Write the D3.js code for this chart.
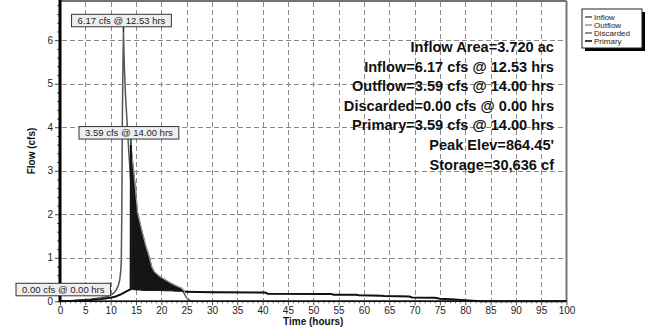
<!DOCTYPE html>
<html><head><meta charset="utf-8">
<script src="https://cdn.jsdelivr.net/npm/d3@7"></script>
<style>
html,body{margin:0;padding:0;background:#fff;}
svg{display:block;font-family:Arial,"Liberation Sans",sans-serif;}
</style></head>
<body>
<svg id="chart" width="652" height="329"></svg>
<script>
// ---- data ----
const xTicks = [0,5,10,15,20,25,30,35,40,45,50,55,60,65,70,75,80,85,90,95,100];
const yTicks = [0,1,2,3,4,5,6];
const xGridValues = [5,10,15,20,25,30,35,40,45,50,55,60,65,70,75,80,85,90,95];
const yGridValues = [1,2,3,4,5,6];

const inflowHours = [0,2,4,6,8,9,10,10.5,11,11.5,11.8,12.0,12.1,12.2,12.3,12.4,12.53,12.7,12.9,13.1,13.3,13.6,14.0,14.5,15,15.5,16,17,18,19,20,21,22,23,24,24.5,25,25.5,26,100];
const inflowFlow  = [0,0.01,0.03,0.05,0.08,0.1,0.14,0.18,0.24,0.36,0.5,0.7,0.9,2.0,4.0,5.2,6.17,5.4,4.8,4.4,4.0,3.4,2.7,2.1,1.7,1.45,1.25,0.95,0.75,0.6,0.5,0.45,0.4,0.34,0.27,0.18,0.08,0.03,0,0];

const primaryHours = [0,3,6,8,10,11,12,12.5,13,13.5,13.95,14.0];
const primaryFlow  = [0,0.01,0.03,0.05,0.08,0.11,0.16,0.19,0.22,0.25,0.28,3.59];

const envHours = [14.0,14.3,14.6,15.0,15.3,15.8,16.3,17.0,17.6,18.1,18.6,19.7,21,22,23,24,24.7];
const envUpper = [3.59,3.25,2.95,2.45,2.05,1.8,1.56,1.25,1.03,0.8,0.68,0.57,0.48,0.41,0.35,0.30,0.22];
const envLower = [0.28,0.27,0.27,0.26,0.26,0.26,0.25,0.25,0.25,0.25,0.25,0.25,0.24,0.24,0.23,0.23,0.22];

const tailHours = [24.7,30,40.5,41,53.5,54,58.5,59,63.5,64,69,69.5,74,75,78,79,83,100];
const tailFlow  = [0.22,0.21,0.2,0.175,0.17,0.15,0.15,0.14,0.13,0.12,0.11,0.09,0.08,0.06,0.04,0.03,0,0];

const discardedHours = [0,100];
const discardedFlow = [0,0];

const peaks = [
  {label:"6.17 cfs @ 12.53 hrs", t:12.53, q:6.17},
  {label:"3.59 cfs @ 14.00 hrs", t:14.00, q:3.59},
  {label:"0.00 cfs @ 0.00 hrs", t:0.00, q:0.00}
];
const summaryLines = [
  "Inflow Area=3.720 ac",
  "Inflow=6.17 cfs @ 12.53 hrs",
  "Outflow=3.59 cfs @ 14.00 hrs",
  "Discarded=0.00 cfs @ 0.00 hrs",
  "Primary=3.59 cfs @ 14.00 hrs",
  "Peak Elev=864.45'",
  "Storage=30,636 cf"
];
const legendNames = ["Inflow","Outflow","Discarded","Primary"];
const legendColors = ["#555","#999","#6e6e6e","#000"];

// ---- layout ----
const svg = d3.select("#chart");
const L = 60, R = 566.5, T = 1, B = 301.3;
const x = d3.scaleLinear().domain([0,100]).range([L,R]);
const y = d3.scaleLinear().domain([0,6.9]).range([B,T]);
const line = d3.line().x(d=>x(d[0])).y(d=>y(d[1]));
const zip = (a,b)=>a.map((v,i)=>[v,b[i]]);

// axes
const xAxis = d3.axisBottom(x).tickValues(xTicks).tickSize(4).tickPadding(2).tickFormat(d3.format("d"));
const gx = svg.append("g").attr("transform",`translate(0,${B})`).call(xAxis);
gx.select(".domain").remove();
gx.selectAll("text").attr("font-size",10).attr("fill","#222").attr("font-family","Arial, 'Liberation Sans', sans-serif");
gx.selectAll(".tick line").attr("stroke","#555");
const xMinor = d3.axisBottom(x).tickValues(d3.range(0,101,1).filter(d=>d%5!==0)).tickSize(2).tickFormat("");
const gxm = svg.append("g").attr("transform",`translate(0,${B})`).call(xMinor);
gxm.select(".domain").remove();
gxm.selectAll(".tick line").attr("stroke","#666");

const yAxis = d3.axisLeft(y).tickValues(yTicks).tickSize(5).tickPadding(2).tickFormat(d3.format("d"));
const gy = svg.append("g").attr("transform",`translate(${L},0)`).call(yAxis);
gy.select(".domain").remove();
gy.selectAll("text").attr("font-size",10).attr("fill","#222").attr("font-family","Arial, 'Liberation Sans', sans-serif");
gy.selectAll(".tick line").attr("stroke","#444");
const yMinor = d3.axisLeft(y).tickValues(d3.range(0,6.9,0.2).filter(d=>Math.abs(d-Math.round(d))>0.01)).tickSize(3).tickFormat("");
const gym = svg.append("g").attr("transform",`translate(${L},0)`).call(yMinor);
gym.select(".domain").remove();
gym.selectAll(".tick line").attr("stroke","#555");

// thin series first
svg.append("path").datum(zip(discardedHours,discardedFlow)).attr("d",line)
  .attr("fill","none").attr("stroke","#6e6e6e").attr("stroke-width",1.5);
svg.append("path").datum(zip(inflowHours,inflowFlow)).attr("d",line)
  .attr("fill","none").attr("stroke","#555").attr("stroke-width",1.5);

// grid (drawn after the thin series so nothing can hide it)
const gridColor = "#8a8a8a";
const gridLayer = svg.append("g").attr("class","gridlayer");
gridLayer.selectAll("line.gv").data(xGridValues).join("line").attr("class","gv")
  .attr("x1",d=>Math.round(x(d))+0.5).attr("x2",d=>Math.round(x(d))+0.5)
  .attr("y1",T+1).attr("y2",B-1)
  .style("stroke",gridColor).style("stroke-width","1px").style("stroke-dasharray","5px,3px");
gridLayer.selectAll("line.gh").data(yGridValues).join("line").attr("class","gh")
  .attr("x1",L+2).attr("x2",R-1)
  .attr("y1",d=>Math.round(y(d))+0.5).attr("y2",d=>Math.round(y(d))+0.5)
  .style("stroke",gridColor).style("stroke-width","1px").style("stroke-dasharray","5px,3px");

// border top/right
svg.append("line").attr("x1",L).attr("x2",R).attr("y1",T).attr("y2",T).attr("stroke","#444").attr("stroke-width",1.5);
svg.append("line").attr("x1",R).attr("x2",R).attr("y1",T).attr("y2",B).attr("stroke","#777").attr("stroke-width",2);

// filled primary region and primary lines
const area = d3.area().x(d=>x(d.t)).y0(d=>y(d.lo)).y1(d=>y(d.hi));
svg.append("path").datum(envHours.map((t,i)=>({t,hi:envUpper[i],lo:envLower[i]})))
  .attr("d",area).attr("fill","#151515").attr("stroke","#151515").attr("stroke-width",1);

const primaryAll = zip(primaryHours,primaryFlow).concat(zip(envHours,envUpper)).concat(zip(tailHours,tailFlow));
svg.append("path").datum(primaryAll).attr("d",line)
  .attr("fill","none").attr("stroke","#999").attr("stroke-width",1.2);
svg.append("path").datum(zip(primaryHours,primaryFlow)).attr("d",line)
  .attr("fill","none").attr("stroke","#111").attr("stroke-width",2);
svg.append("path").datum(zip(tailHours,tailFlow)).attr("d",line)
  .attr("fill","none").attr("stroke","#111").attr("stroke-width",2);

// x axis baseline and y axis line
svg.append("line").attr("x1",L).attr("x2",R).attr("y1",B).attr("y2",B).attr("stroke","#111").attr("stroke-width",1.5);
svg.append("line").attr("x1",L).attr("x2",L).attr("y1",0).attr("y2",B+1).attr("stroke","#000").attr("stroke-width",3);

// peak labels
const labelFont = 9.5;
peaks.forEach((p,i)=>{
  const px = x(p.t), py = y(p.q);
  const g = svg.append("g");
  const t = g.append("text").text(p.label).attr("font-size",labelFont).attr("fill","#222");
  const w = t.node().getComputedTextLength();
  const bw = w + 12, bh = 12.5;
  let bx, by;
  if (p.t === 0) { bx = 16; by = py - 18; }
  else { bx = px - bw/2 - 2; by = py - bh - 6; }
  if (p.t !== 0) g.insert("line","text").attr("x1",px).attr("x2",px).attr("y1",by+bh).attr("y2",py).attr("stroke","#222").attr("stroke-width",1.5);
  g.insert("rect","text").attr("x",bx).attr("y",by).attr("width",bw).attr("height",bh)
    .attr("fill","#efefef").attr("stroke","#333").attr("stroke-width",1);
  t.attr("x",bx+bw/2).attr("y",by+bh/2+3.4).attr("text-anchor","middle");
});

// summary text
svg.append("g").selectAll("text").data(summaryLines).join("text")
  .attr("x",554).attr("y",(d,i)=>52+i*19.6).attr("text-anchor","end")
  .attr("font-size",14.6).attr("font-weight","bold").attr("fill","#111").text(d=>d);

// axis titles
svg.append("text").attr("x",(L+R)/2).attr("y",325).attr("text-anchor","middle")
  .attr("font-size",10).attr("font-weight","bold").attr("fill","#111").text("Time  (hours)");
svg.append("text").attr("transform","translate(35,151) rotate(-90)").attr("text-anchor","middle")
  .attr("font-size",10).attr("font-weight","bold").attr("fill","#111").text("Flow  (cfs)");

// legend
const lg = svg.append("g").attr("transform","translate(582,9)");
lg.append("rect").attr("x",3).attr("y",3).attr("width",60).attr("height",39).attr("fill","#000");
lg.append("rect").attr("x",0).attr("y",0).attr("width",60).attr("height",39).attr("fill","#fff").attr("stroke","#222").attr("stroke-width",1);
legendNames.forEach((n,i)=>{
  const yy = 8 + i*8;
  lg.append("line").attr("x1",3).attr("x2",10).attr("y1",yy).attr("y2",yy).attr("stroke",legendColors[i]).attr("stroke-width",1.5);
  lg.append("text").attr("x",12).attr("y",yy+2.8).attr("font-size",8).attr("fill","#222").text(n);
});
</script>
</body></html>
